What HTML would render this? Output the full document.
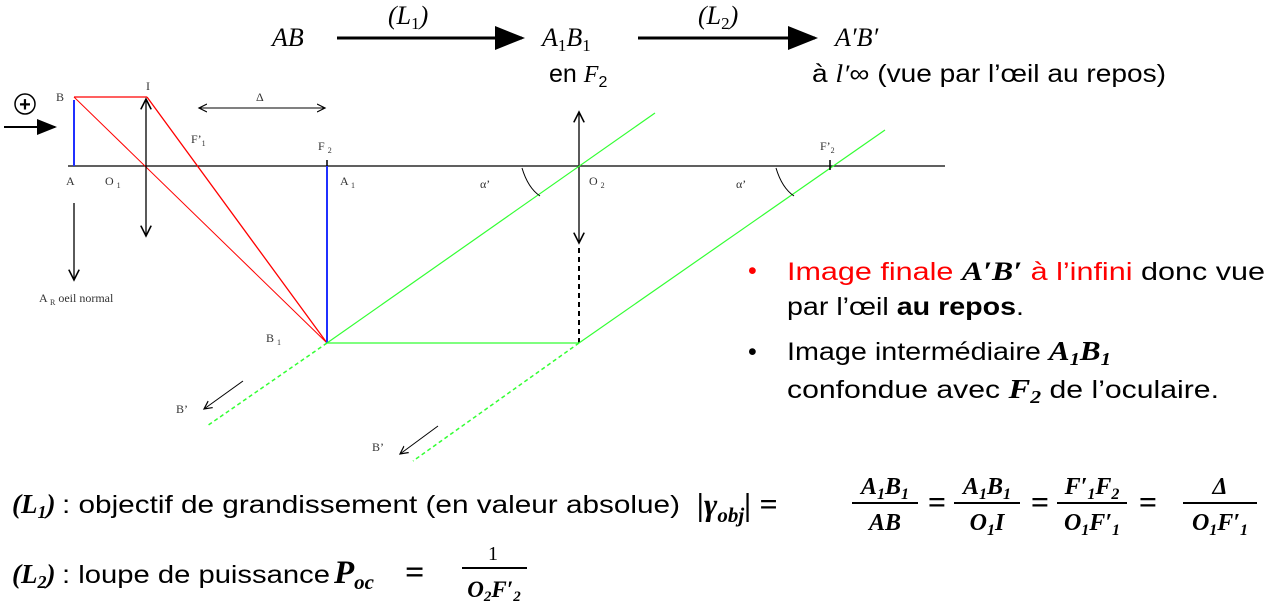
<!DOCTYPE html>
<html><head><meta charset="utf-8"><style>
html,body{margin:0;padding:0;background:#fff;}
svg{display:block;}
.s{font-family:"Liberation Serif",serif;font-size:12px;fill:#333;}
.t{font-family:"Liberation Sans",sans-serif;font-size:25px;fill:#000;}
.m{font-family:"Liberation Serif",serif;font-size:26px;font-style:italic;fill:#000;}
.mb{font-family:"Liberation Serif",serif;font-weight:bold;font-style:italic;fill:#000;}
</style></head><body>
<svg width="1267" height="611" viewBox="0 0 1267 611">
<defs>
<marker id="ah" markerWidth="10" markerHeight="8" refX="9" refY="4" orient="auto"><path d="M0,0 L10,4 L0,8 z" fill="#000"/></marker>
<marker id="oa" markerWidth="10" markerHeight="10" refX="8" refY="5" orient="auto-start-reverse"><path d="M0,1 L8,5 L0,9" fill="none" stroke="#000" stroke-width="1.2"/></marker>
</defs>
<g>
<text class="m" x="272" y="46">AB</text>
<line x1="337" y1="38" x2="522" y2="38" stroke="#000" stroke-width="3" marker-end="url(#ah)"/>
<text class="m" x="388" y="24">(L<tspan font-size="17" dy="5" font-style="normal">1</tspan><tspan dy="-5">)</tspan></text>
<text class="m" x="542" y="46">A<tspan font-size="17" dy="5" font-style="normal">1</tspan><tspan dy="-5">B</tspan><tspan font-size="17" dy="5" font-style="normal">1</tspan></text>
<text class="t" x="549" y="82" font-size="22">en <tspan font-family="Liberation Serif" font-style="italic" font-size="24">F</tspan><tspan font-size="16" dy="5">2</tspan></text>
<line x1="638" y1="38" x2="815" y2="38" stroke="#000" stroke-width="3" marker-end="url(#ah)"/>
<text class="m" x="698" y="24">(L<tspan font-size="17" dy="5" font-style="normal">2</tspan><tspan dy="-5">)</tspan></text>
<text class="m" x="835" y="46">A′B′</text>
<text class="t" x="812" y="82" font-size="21" textLength="354" lengthAdjust="spacingAndGlyphs">à <tspan font-family="Liberation Serif" font-style="italic">l′</tspan>∞ (vue par l’œil au repos)</text>
</g>
<g>
<line x1="68" y1="166" x2="945" y2="166" stroke="#000" stroke-width="1.2"/>
<circle cx="25" cy="104" r="10" fill="none" stroke="#000" stroke-width="1.5"/>
<text x="25" y="111" text-anchor="middle" font-family="Liberation Sans" font-weight="bold" font-size="20">+</text>
<line x1="4" y1="127" x2="55" y2="127" stroke="#000" stroke-width="2" marker-end="url(#ah)"/>
<line x1="74" y1="166" x2="74" y2="100" stroke="#2030ff" stroke-width="2"/>
<line x1="74" y1="97" x2="147" y2="97" stroke="#f00" stroke-width="1.3"/>
<line x1="147" y1="97" x2="327" y2="343" stroke="#f00" stroke-width="1.3"/>
<line x1="74" y1="97" x2="327" y2="343" stroke="#f00" stroke-width="1"/>
<line x1="146" y1="99" x2="146" y2="236" stroke="#000" stroke-width="1.3" marker-start="url(#oa)" marker-end="url(#oa)"/>
<line x1="74" y1="203" x2="74" y2="280" stroke="#000" stroke-width="1.3" marker-end="url(#oa)"/>
<line x1="199" y1="108" x2="325" y2="108" stroke="#000" stroke-width="1" marker-start="url(#oa)" marker-end="url(#oa)"/>
<line x1="327" y1="166" x2="327" y2="343" stroke="#2030ff" stroke-width="2"/>
<line x1="327" y1="160" x2="327" y2="166" stroke="#000" stroke-width="1.5"/>
<line x1="579" y1="112" x2="579" y2="243" stroke="#000" stroke-width="1.3" marker-start="url(#oa)" marker-end="url(#oa)"/>
<line x1="579" y1="248" x2="579" y2="345" stroke="#000" stroke-width="2" stroke-dasharray="5,4"/>
<line x1="327" y1="343" x2="655" y2="113" stroke="#3f3" stroke-width="1.2"/>
<line x1="327" y1="343" x2="579" y2="343" stroke="#3f3" stroke-width="1.2"/>
<line x1="579" y1="343" x2="885" y2="130" stroke="#3f3" stroke-width="1.2"/>
<line x1="327" y1="343" x2="207" y2="426" stroke="#3f3" stroke-width="1.5" stroke-dasharray="4,3"/>
<line x1="579" y1="343" x2="413" y2="461" stroke="#3f3" stroke-width="1.5" stroke-dasharray="4,3"/>
<line x1="830" y1="160" x2="830" y2="170" stroke="#000" stroke-width="1.5"/>
<line x1="243" y1="381" x2="204" y2="409" stroke="#000" stroke-width="1" marker-end="url(#oa)"/>
<line x1="438" y1="426" x2="400" y2="454" stroke="#000" stroke-width="1" marker-end="url(#oa)"/>
<path d="M522,168 Q528,188 540,196" fill="none" stroke="#000" stroke-width="1"/>
<path d="M776,168 Q782,188 794,196" fill="none" stroke="#000" stroke-width="1"/>
<text class="s" x="56" y="101">B</text>
<text class="s" x="146" y="90">I</text>
<text class="s" x="256" y="101">Δ</text>
<text class="s" x="191" y="143">F’<tspan font-size="8" dy="3">1</tspan></text>
<text class="s" x="318" y="150">F <tspan font-size="8" dy="3">2</tspan></text>
<text class="s" x="820" y="150">F’<tspan font-size="8" dy="3">2</tspan></text>
<text class="s" x="66" y="185">A</text>
<text class="s" x="105" y="185">O <tspan font-size="8" dy="3">1</tspan></text>
<text class="s" x="340" y="185">A <tspan font-size="8" dy="3">1</tspan></text>
<text class="s" x="589" y="185">O <tspan font-size="8" dy="3">2</tspan></text>
<text class="s" x="480" y="188">α’</text>
<text class="s" x="736" y="188">α’</text>
<text class="s" x="39" y="302">A <tspan font-size="8" dy="3">R</tspan><tspan dy="-3">  oeil normal</tspan></text>
<text class="s" x="266" y="342">B <tspan font-size="8" dy="3">1</tspan></text>
<text class="s" x="176" y="413">B’</text>
<text class="s" x="372" y="451">B’</text>
</g>
<g>
<text class="t" x="748" y="279" style="fill:#f00">•</text>
<text class="t" x="787" y="280" textLength="478" lengthAdjust="spacingAndGlyphs"><tspan style="fill:#f00">Image finale <tspan class="mb" font-size="26">A′B′</tspan> à l’infini</tspan> donc vue</text>
<text class="t" x="787" y="315" textLength="237" lengthAdjust="spacingAndGlyphs">par l’œil <tspan font-weight="bold">au repos</tspan>.</text>
<text class="t" x="748" y="360">•</text>
<text class="t" x="787" y="360" textLength="324" lengthAdjust="spacingAndGlyphs">Image intermédiaire <tspan class="mb" font-size="27">A<tspan font-size="18" dy="5">1</tspan><tspan dy="-5">B</tspan><tspan font-size="18" dy="5">1</tspan></tspan></text>
<text class="t" x="787" y="398" textLength="432" lengthAdjust="spacingAndGlyphs">confondue avec <tspan class="mb" font-size="27">F<tspan font-size="18" dy="5">2</tspan></tspan><tspan dy="-5"> de l’oculaire.</tspan></text>
</g>
<g>
<text class="mb" x="12" y="513" font-size="27">(L<tspan font-size="18" dy="5">1</tspan><tspan dy="-5">)</tspan></text>
<text class="t" x="62" y="513" textLength="618" lengthAdjust="spacingAndGlyphs">: objectif de grandissement (en valeur absolue)</text>
<text class="mb" x="697" y="515" font-size="32">|γ<tspan font-size="21" dy="7">obj</tspan><tspan dy="-7">| =</tspan></text>
<g font-family="Liberation Serif" font-weight="bold" font-style="italic" font-size="24" text-anchor="middle">
<text x="885" y="494">A<tspan font-size="16" dy="5">1</tspan><tspan dy="-5">B</tspan><tspan font-size="16" dy="5">1</tspan></text>
<line x1="852" y1="503" x2="918" y2="503" stroke="#000" stroke-width="2"/>
<text x="885" y="530">AB</text>
<text x="937" y="513" font-size="32" font-style="normal">=</text>
<text x="987" y="494">A<tspan font-size="16" dy="5">1</tspan><tspan dy="-5">B</tspan><tspan font-size="16" dy="5">1</tspan></text>
<line x1="954" y1="503" x2="1020" y2="503" stroke="#000" stroke-width="2"/>
<text x="987" y="530">O<tspan font-size="16" dy="5">1</tspan><tspan dy="-5">I</tspan></text>
<text x="1040" y="513" font-size="32" font-style="normal">=</text>
<text x="1092" y="494">F′<tspan font-size="16" dy="5">1</tspan><tspan dy="-5">F</tspan><tspan font-size="16" dy="5">2</tspan></text>
<line x1="1057" y1="503" x2="1127" y2="503" stroke="#000" stroke-width="2"/>
<text x="1092" y="530">O<tspan font-size="16" dy="5">1</tspan><tspan dy="-5">F′</tspan><tspan font-size="16" dy="5">1</tspan></text>
<text x="1148" y="513" font-size="32" font-style="normal">=</text>
<text x="1220" y="494">Δ</text>
<line x1="1183" y1="503" x2="1257" y2="503" stroke="#000" stroke-width="2"/>
<text x="1220" y="530">O<tspan font-size="16" dy="5">1</tspan><tspan dy="-5">F′</tspan><tspan font-size="16" dy="5">1</tspan></text>
</g>
<text class="mb" x="12" y="583" font-size="27">(L<tspan font-size="18" dy="5">2</tspan><tspan dy="-5">)</tspan></text>
<text class="t" x="62" y="583" textLength="268" lengthAdjust="spacingAndGlyphs">: loupe de puissance</text>
<text class="mb" x="334" y="583" font-size="33">P<tspan font-size="21" dy="6">oc</tspan></text>
<text x="405" y="583" font-family="Liberation Serif" font-size="34" font-weight="bold">=</text>
<text x="493" y="560" font-family="Liberation Serif" font-size="20" text-anchor="middle">1</text>
<line x1="462" y1="568" x2="527" y2="568" stroke="#000" stroke-width="2"/>
<text x="494" y="597" font-family="Liberation Serif" font-weight="bold" font-style="italic" font-size="23" text-anchor="middle">O<tspan font-size="15" dy="4">2</tspan><tspan dy="-4">F′</tspan><tspan font-size="15" dy="4">2</tspan></text>
</g>
</svg>
</body></html>
